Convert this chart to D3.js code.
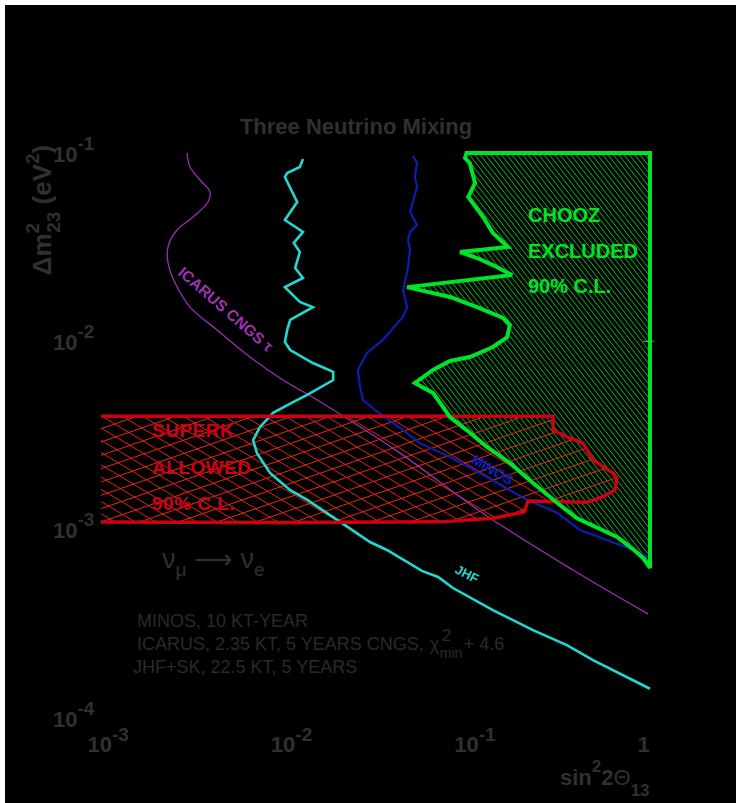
<!DOCTYPE html>
<html>
<head>
<meta charset="utf-8">
<script src="https://cdn.jsdelivr.net/npm/d3@7"></script>
<style>
  html, body { margin: 0; background: #000; overflow: hidden; }
  svg { display: block; }
  text { font-family: "Liberation Sans", Arial, sans-serif; }
</style>
</head>
<body>
<div id="chart"></div>
<script>
// chart values: [sin^2 2theta13, delta m^2_23 (eV^2)]
var xTicks = [1e-3, 1e-2, 1e-1, 1];
var xTickLabels = [["10", "-3"], ["10", "-2"], ["10", "-1"], ["1", ""]];
var yTicks = [1e-1, 1e-2, 1e-3, 1e-4];
var yTickLabels = [["10", "-1"], ["10", "-2"], ["10", "-3"], ["10", "-4"]];

var icarus = [
  [2.98e-3, 0.1], [3.10e-3, 8.43e-2], [3.51e-3, 7.19e-2], [3.98e-3, 6.21e-2],
  [3.88e-3, 5.49e-2], [3.22e-3, 4.57e-2], [2.63e-3, 3.90e-2], [2.35e-3, 3.17e-2],
  [2.35e-3, 2.61e-2], [2.57e-3, 2.04e-2], [3.10e-3, 1.52e-2], [4.35e-3, 1.15e-2],
  [6.58e-3, 8.26e-3], [9.96e-3, 6.23e-3], [1.53e-2, 4.88e-3], [4.33e-2, 2.55e-3],
  [0.126, 1.20e-3], [0.380, 6.11e-4], [0.975, 3.57e-4]
];

var jhf = [
  [1.28e-2, 9.29e-2], [1.23e-2, 8.43e-2], [1.05e-2, 7.83e-2], [1.02e-2, 7.46e-2],
  [1.19e-2, 5.49e-2], [1.02e-2, 4.41e-2], [1.28e-2, 3.81e-2], [1.14e-2, 3.33e-2],
  [1.23e-2, 2.98e-2], [1.16e-2, 2.45e-2], [1.28e-2, 2.17e-2], [1.02e-2, 1.94e-2],
  [1.23e-2, 1.62e-2], [1.45e-2, 1.52e-2], [1.09e-2, 1.30e-2], [1.05e-2, 1.15e-2],
  [1.02e-2, 9.92e-3], [1.09e-2, 8.99e-3], [1.45e-2, 7.67e-3], [1.87e-2, 6.88e-3],
  [1.87e-2, 6.23e-3], [1.35e-2, 5.19e-3], [1.13e-2, 4.76e-3], [8.79e-3, 4.17e-3],
  [7.46e-3, 3.51e-3], [6.84e-3, 2.99e-3], [7.18e-3, 2.55e-3], [8.46e-3, 2.00e-3],
  [1.09e-2, 1.62e-3], [1.35e-2, 1.44e-3], [2.04e-2, 1.10e-3], [2.97e-2, 8.60e-4],
  [3.67e-2, 7.80e-4], [5.70e-2, 6.04e-4], [6.98e-2, 5.61e-4], [8.42e-2, 4.90e-4],
  [0.139, 3.74e-4], [0.230, 2.93e-4], [0.352, 2.44e-4], [0.489, 2.03e-4],
  [1.0, 1.43e-4]
];

var minos = [
  [5.09e-2, 9.64e-2], [5.36e-2, 8.85e-2], [5.22e-2, 7.46e-2], [5.36e-2, 6.61e-2],
  [4.91e-2, 4.86e-2], [5.36e-2, 4.15e-2], [4.91e-2, 3.81e-2], [4.79e-2, 3.45e-2],
  [4.91e-2, 3.05e-2], [4.79e-2, 2.48e-2], [4.50e-2, 1.87e-2], [4.73e-2, 1.52e-2],
  [4.50e-2, 1.35e-2], [3.50e-2, 1.02e-2], [2.86e-2, 8.67e-3], [2.55e-2, 7.05e-3],
  [2.62e-2, 5.73e-3], [2.72e-2, 4.88e-3], [3.16e-2, 4.32e-3], [4.33e-2, 3.47e-3],
  [5.56e-2, 2.88e-3], [8.11e-2, 2.43e-3], [0.123, 1.95e-3], [0.213, 1.44e-3],
  [0.311, 1.23e-3], [0.415, 9.96e-4], [0.583, 8.81e-4], [0.807, 7.80e-4],
  [1.0, 7.1e-4]
];

var chooz = [
  [0.100, 0.1], [1.0, 0.1], [1.0, 6.26e-4], [0.916, 7.08e-4], [0.807, 7.89e-4],
  [0.661, 9.14e-4], [0.400, 1.15e-3], [0.311, 1.39e-3], [0.230, 1.77e-3],
  [0.172, 2.26e-3], [0.129, 2.75e-3], [0.100, 3.38e-3], [8.11e-2, 3.96e-3],
  [7.43e-2, 4.48e-3], [6.55e-2, 5.32e-3], [5.22e-2, 6.01e-3], [6.55e-2, 7.05e-3],
  [8.11e-2, 7.87e-3], [0.104, 8.26e-3], [0.139, 9.33e-3], [0.166, 1.05e-2],
  [0.172, 1.22e-2], [0.158, 1.33e-2], [0.114, 1.52e-2], [8.11e-2, 1.72e-2],
  [4.73e-2, 1.94e-2], [0.177, 2.25e-2], [0.139, 2.54e-2], [0.114, 2.77e-2],
  [9.20e-2, 2.98e-2], [0.168, 3.17e-2], [0.139, 3.76e-2], [0.123, 4.57e-2],
  [0.102, 5.83e-2], [0.111, 6.93e-2], [0.104, 8.85e-2], [9.79e-2, 9.40e-2]
];

// superK allowed region (runs off the left edge of the frame)
var superk = [
  [5e-4, 4.0e-3], [0.296, 4.0e-3], [0.296, 3.38e-3], [0.335, 3.18e-3],
  [0.431, 2.88e-3], [0.489, 2.34e-3], [0.628, 2.00e-3], [0.661, 1.88e-3],
  [0.644, 1.62e-3], [0.534, 1.47e-3], [0.453, 1.40e-3], [0.216, 1.42e-3],
  [0.206, 1.24e-3], [0.139, 1.15e-3], [7.16e-2, 1.10e-3], [1.23e-2, 1.09e-3],
  [5e-4, 1.10e-3]
];

var infoLines = ["MINOS, 10 KT-YEAR", "ICARUS, 2.35 KT, 5 YEARS CNGS,", "JHF+SK, 22.5 KT, 5 YEARS"];

var svgWidth = 736, svgHeight = 803;
var textColor = "#303030";

var svg = d3.select("#chart").append("svg")
  .attr("width", svgWidth)
  .attr("height", svgHeight);

// black page with a thin white strip along the top and left
svg.append("rect").attr("width", svgWidth).attr("height", svgHeight).attr("fill", "#fff");
svg.append("rect")
  .attr("x", 5).attr("y", 5)
  .attr("width", 900).attr("height", 900)
  .attr("fill", "#000");

// log scales, frame is 100..650 by 153..718
var x = d3.scaleLog().domain([1e-3, 1]).range([100, 650]);
var y = d3.scaleLog().domain([1e-4, 1e-1]).range([718, 153]);

var line = d3.line().x(d => x(d[0])).y(d => y(d[1]));
var smooth = d3.line().x(d => x(d[0])).y(d => y(d[1])).curve(d3.curveCatmullRom);

var defs = svg.append("defs");
defs.append("clipPath").attr("id", "frame")
  .append("rect").attr("x", 100).attr("y", 153).attr("width", 560).attr("height", 565);
defs.append("clipPath").attr("id", "redClip")
  .append("path").attr("d", line(superk) + "Z");
defs.append("clipPath").attr("id", "greenClip")
  .append("path").attr("d", line(chooz) + "Z");

// hatch lines at an angle, clipped by the given clip path
function hatch(g, angle, gap, color, width) {
  var a = angle * Math.PI / 180, dx = Math.cos(a), dy = Math.sin(a);
  var nx = -dy, ny = dx, L = 700;
  for (var t = -L; t <= L; t += gap) {
    var px = 380 + nx * t, py = 420 + ny * t;
    g.append("line")
      .attr("x1", px - dx * L).attr("y1", py - dy * L)
      .attr("x2", px + dx * L).attr("y2", py + dy * L)
      .attr("stroke", color).attr("stroke-width", width);
  }
}

var plot = svg.append("g").attr("clip-path", "url(#frame)");

// superK cross hatch, first family
var redB = plot.append("g").attr("clip-path", "url(#redClip)");
hatch(redB, 31, 10.5, "#e42010", 1);

// chooz region
plot.append("path").attr("d", line(chooz) + "Z").attr("fill", "#000");
var greenH = plot.append("g").attr("clip-path", "url(#greenClip)");
hatch(greenH, 52, 4.2, "#00c01e", 1);

// superK cross hatch, second family
var redA = plot.append("g").attr("clip-path", "url(#redClip)");
hatch(redA, -19, 12.6, "#ec2a0e", 1);

// sensitivity curves
plot.append("path").attr("d", smooth(icarus))
  .attr("fill", "none").attr("stroke", "#9a30b0").attr("stroke-width", 1.3);
plot.append("path").attr("d", line(jhf))
  .attr("fill", "none").attr("stroke", "#22d8d0").attr("stroke-width", 2.6);
plot.append("path").attr("d", line(minos))
  .attr("fill", "none").attr("stroke", "#0a1eb0").attr("stroke-width", 2.2);

plot.append("path").attr("d", line(superk))
  .attr("fill", "none").attr("stroke", "#d00012").attr("stroke-width", 3.5)
  .attr("stroke-linejoin", "round");
svg.append("path").attr("d", line(chooz) + "Z")
  .attr("fill", "none").attr("stroke", "#00e428").attr("stroke-width", 4)
  .attr("stroke-linejoin", "miter").attr("stroke-miterlimit", 3);

// small tick on the right frame edge
svg.append("line")
  .attr("x1", 643).attr("x2", 654)
  .attr("y1", y(1e-2)).attr("y2", y(1e-2))
  .attr("stroke", "#00e428").attr("stroke-width", 1);

// axes (frame is drawn black, so only labels show)
var xAxis = svg.append("g")
  .attr("transform", "translate(0,718)")
  .call(d3.axisBottom(x).tickValues(xTicks).tickFormat("").tickSize(0));
xAxis.select(".domain").attr("stroke", "#000");
xAxis.selectAll(".tick").append("text")
  .attr("x", -13).attr("y", 34)
  .attr("text-anchor", "start")
  .attr("fill", textColor)
  .attr("font-size", 22).attr("font-weight", "bold")
  .each(function(d, i) {
    var t = d3.select(this);
    t.append("tspan").text(xTickLabels[i][0]);
    if (xTickLabels[i][1]) t.append("tspan").attr("dy", -11).attr("font-size", 19).text(xTickLabels[i][1]);
  });

var yAxis = svg.append("g")
  .attr("transform", "translate(100,0)")
  .call(d3.axisLeft(y).tickValues(yTicks).tickFormat("").tickSize(0));
yAxis.select(".domain").attr("stroke", "#000");
yAxis.selectAll(".tick").append("text")
  .attr("x", -47).attr("y", 8)
  .attr("text-anchor", "start")
  .attr("fill", textColor)
  .attr("font-size", 22).attr("font-weight", "bold")
  .each(function(d, i) {
    var t = d3.select(this);
    t.append("tspan").text(yTickLabels[i][0]);
    t.append("tspan").attr("dy", -12).attr("font-size", 19).text(yTickLabels[i][1]);
  });

// title
svg.append("text")
  .attr("x", 356).attr("y", 134)
  .attr("text-anchor", "middle")
  .attr("fill", textColor)
  .attr("font-size", 22).attr("font-weight", "bold")
  .text("Three Neutrino Mixing");

// y axis title
var yt = svg.append("text")
  .attr("transform", "translate(51,210) rotate(-90)")
  .attr("text-anchor", "middle")
  .attr("fill", textColor)
  .attr("font-size", 26).attr("font-weight", "bold");
yt.append("tspan").text("\u0394m");
yt.append("tspan").attr("font-size", 19).attr("dy", -12).text("2");
yt.append("tspan").attr("font-size", 19).attr("dx", -10).attr("dy", 21).text("23");
yt.append("tspan").attr("dy", -9).text(" (eV");
yt.append("tspan").attr("font-size", 19).attr("dy", -12).text("2");
yt.append("tspan").attr("dy", 12).text(")");

// x axis title
var xt = svg.append("text")
  .attr("x", 560).attr("y", 785)
  .attr("fill", textColor)
  .attr("font-size", 22).attr("font-weight", "bold");
xt.append("tspan").text("sin");
xt.append("tspan").attr("font-size", 17).attr("dy", -13).text("2");
xt.append("tspan").attr("dy", 13).text("2");
xt.append("tspan").attr("font-weight", "normal").text("\u0398");
xt.append("tspan").attr("font-size", 17).attr("dy", 11).text("13");

// nu_mu -> nu_e
var nu = svg.append("text")
  .attr("x", 162).attr("y", 568)
  .attr("fill", textColor)
  .attr("font-size", 27);
nu.append("tspan").text("\u03BD");
nu.append("tspan").attr("font-size", 19).attr("dy", 8).text("\u03BC");
nu.append("tspan").attr("dy", -8).text(" \u27F6 \u03BD");
nu.append("tspan").attr("font-size", 19).attr("dy", 8).text("e");

// experiment notes
var notes = svg.append("g").attr("fill", "#2a2a2a").attr("font-size", 18);
infoLines.forEach(function(s, i) {
  notes.append("text")
    .attr("x", i === 2 ? 133 : 137).attr("y", 627 + i * 23)
    .text(s);
});
var chiX = 137 + notes.selectAll("text").nodes()[1].getComputedTextLength() + 6;
notes.append("text").attr("x", chiX).attr("y", 650).text("\u03C7");
notes.append("text").attr("x", chiX + 12).attr("y", 641).attr("font-size", 17).text("2");
notes.append("text").attr("x", chiX + 10).attr("y", 658).attr("font-size", 14).text("min");
notes.append("text").attr("x", chiX + 34).attr("y", 650).text("+ 4.6");

// region labels
function block(lines, x0, y0, step, color, size, spacing) {
  lines.forEach(function(s, i) {
    svg.append("text")
      .attr("x", x0).attr("y", y0 + i * step)
      .attr("fill", color)
      .attr("font-size", size).attr("font-weight", "bold")
      .attr("letter-spacing", spacing)
      .text(s);
  });
}
block(["CHOOZ", "EXCLUDED", "90% C.L."], 528, 222, 35.5, "#00e428", 20, 0);
block(["SUPERK", "ALLOWED", "90% C.L."], 152, 437, 36.5, "#d00012", 19, 0.5);

// curve labels
svg.append("text")
  .attr("transform", "translate(177,274) rotate(41)")
  .attr("fill", "#a032b4").attr("font-size", 15.5).attr("font-weight", "bold")
  .text("ICARUS CNGS \u03C4");
svg.append("text")
  .attr("transform", "translate(490,474) rotate(30)")
  .attr("text-anchor", "middle")
  .attr("fill", "#0a1ec8").attr("font-size", 14).attr("font-weight", "bold")
  .text("MINOS");
svg.append("text")
  .attr("transform", "translate(465,578) rotate(27)")
  .attr("text-anchor", "middle")
  .attr("fill", "#22d8d0").attr("font-size", 13).attr("font-weight", "bold")
  .text("JHF");
</script>
</body>
</html>
